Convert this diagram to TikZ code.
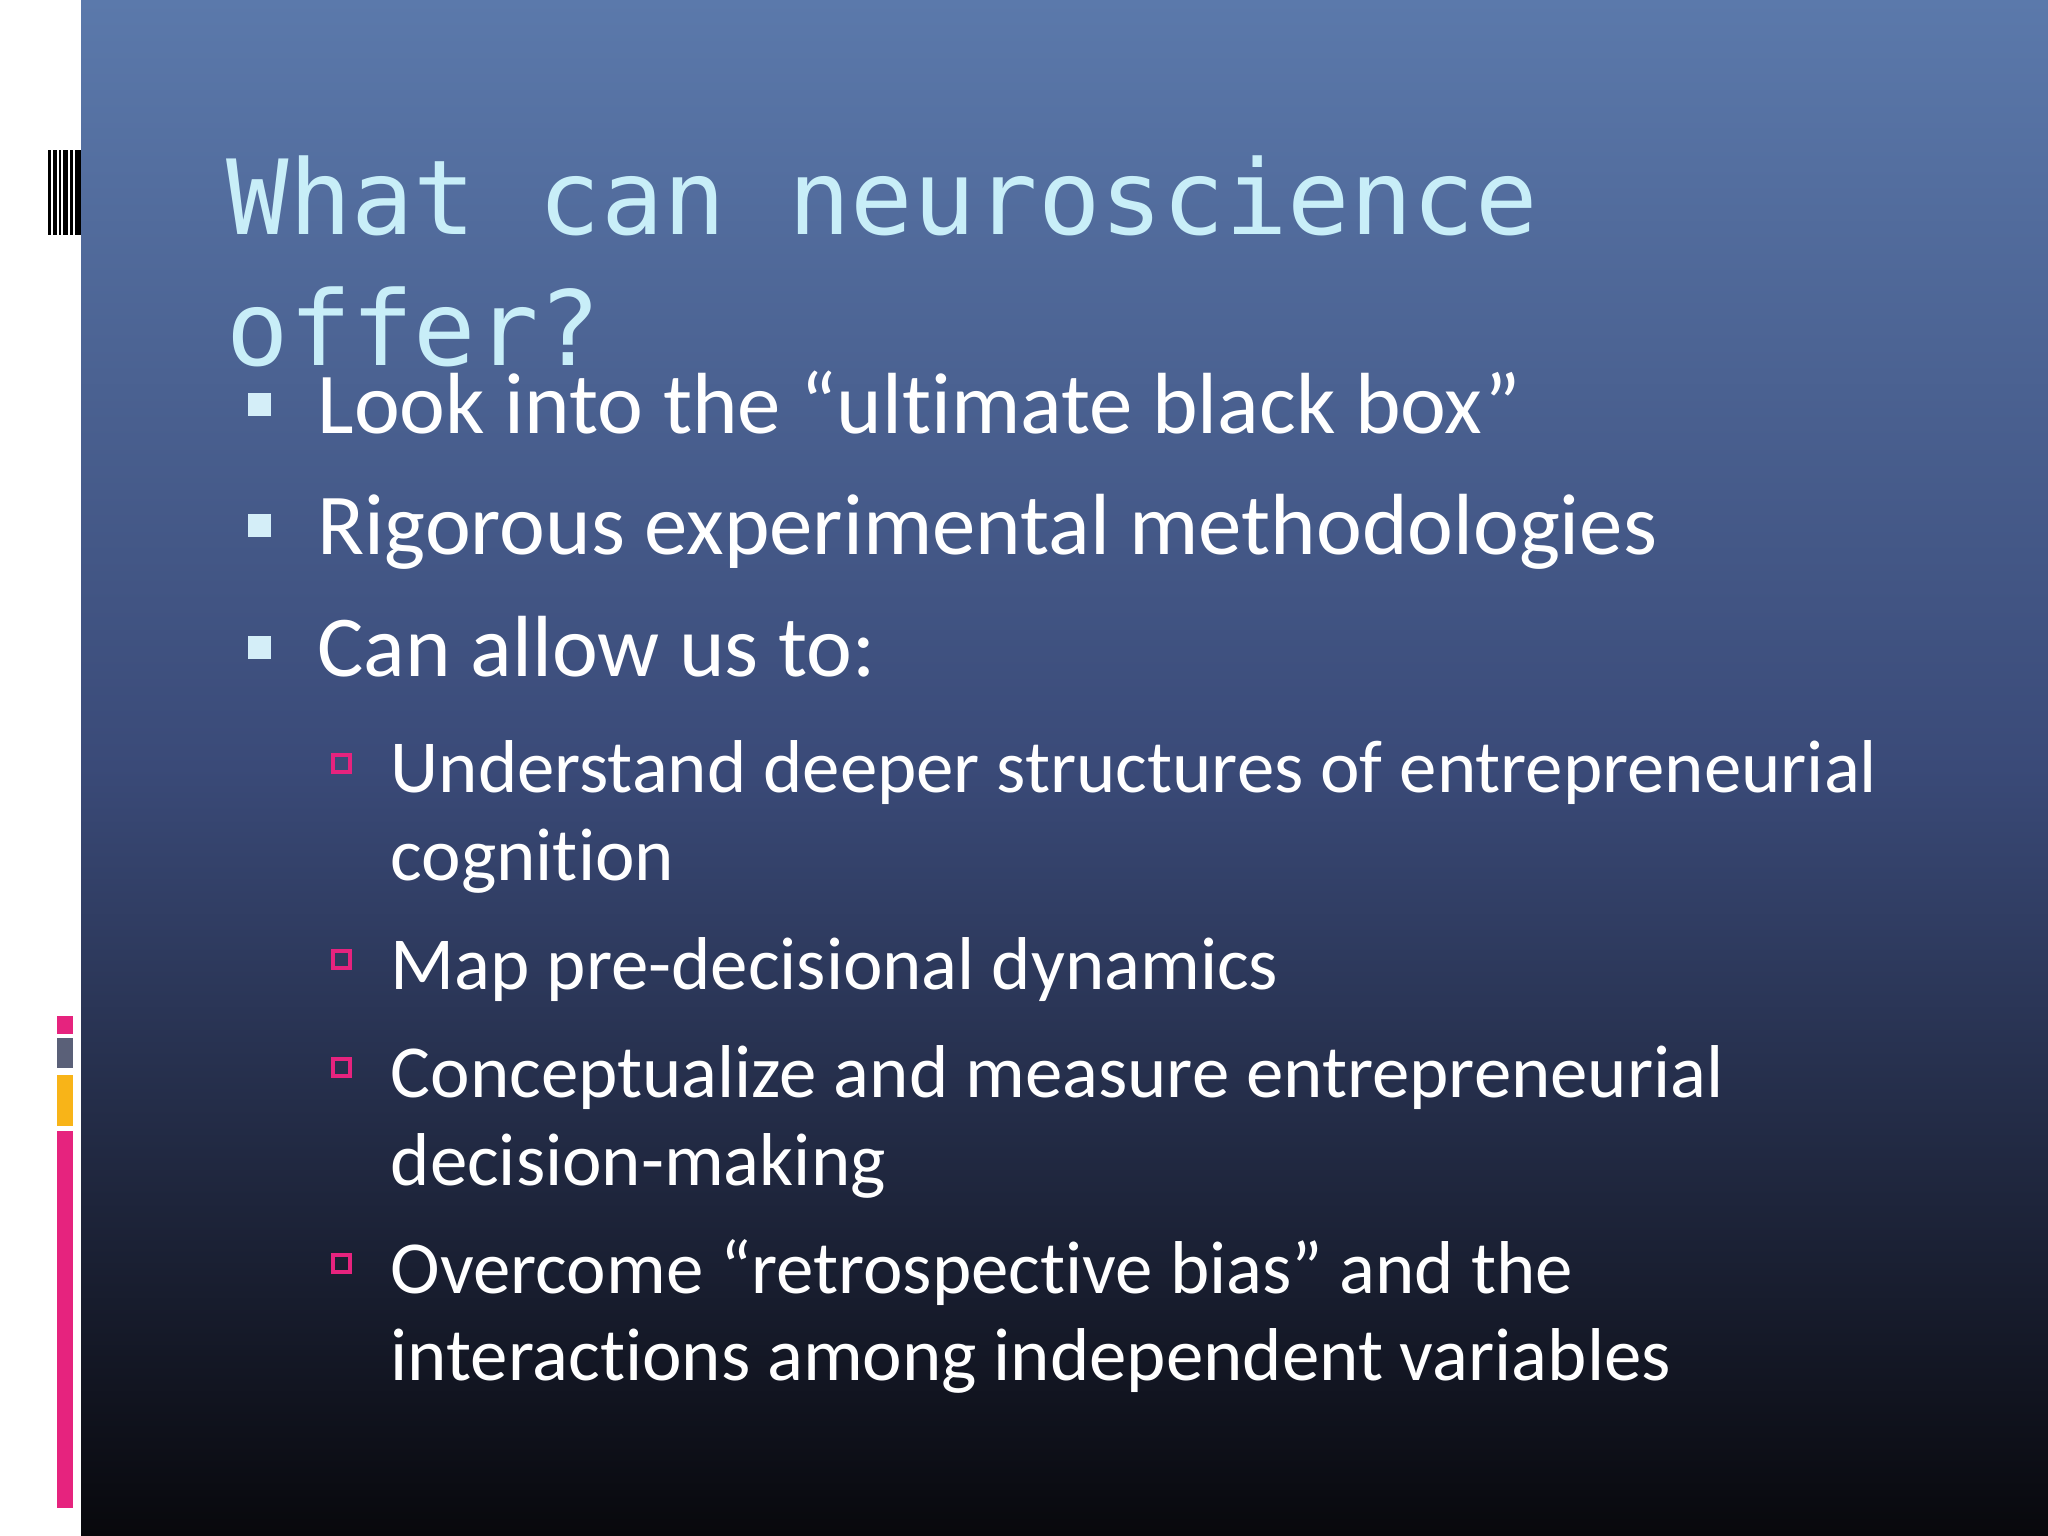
\documentclass[tikz,border=0pt]{standalone}
\usepackage{fontspec}
\setmainfont[RawFeature=-liga]{Carlito}
\newfontfamily\titlefont{DejaVu Sans Mono}
\definecolor{topblue}{HTML}{5B79AB}
\definecolor{midblue}{HTML}{3A4A78}
\definecolor{botblk}{HTML}{08080C}
\definecolor{ttl}{HTML}{C8EEF8}
\definecolor{bul}{HTML}{D4EEF8}
\definecolor{pinkb}{HTML}{E6237E}
\definecolor{greyb}{HTML}{5A6078}
\definecolor{orangeb}{HTML}{F8B418}
\tikzset{
  main/.style={anchor=base west,text=white,inner sep=0pt,font=\fontsize{24.7}{30}\selectfont},
  sub/.style={anchor=base west,text=white,inner sep=0pt,font=\fontsize{21.3}{26}\selectfont},
  ttlstyle/.style={anchor=base west,text=ttl,inner sep=0pt,font=\titlefont\fontsize{29.5}{35}\selectfont},
}
\begin{document}
\begin{tikzpicture}[x=1cm,y=1cm]
\useasboundingbox (0,0) rectangle (20.48,-15.36);
\fill[white] (0,0) rectangle (0.81,-15.36);
\shade[top color=topblue,bottom color=botblk,middle color=midblue] (0.81,0) rectangle (20.48,-15.36);
% barcode
\foreach \x/\w in {0.48/0.03,0.53/0.04,0.59/0.02,0.63/0.05,0.70/0.03,0.75/0.06}
  \fill[black] (\x,-1.50) rectangle ++(\w,-0.85);
% coloured bars
\fill[pinkb] (0.57,-10.16) rectangle (0.73,-10.34);
\fill[greyb] (0.57,-10.38) rectangle (0.73,-10.68);
\fill[orangeb] (0.57,-10.75) rectangle (0.73,-11.26);
\fill[pinkb] (0.57,-11.31) rectangle (0.73,-15.08);
% title
\node[ttlstyle] (t1) at (2.26,-2.35) {What can neuroscience};
\node[ttlstyle] (t2) at (2.26,-3.66) {offer?};
% main bullets
\foreach \y/\t [count=\i] in {4.34/{Look into the “ultimate black box”},5.55/{Rigorous experimental methodologies},6.77/{Can allow us to:}}{
  \fill[bul] (2.48,-\y+0.41) rectangle ++(0.23,-0.23);
  \node[main] (m\i) at (3.17,-\y) {\t};
}
% sub bullets
\foreach \y in {7.93,9.89,10.97,12.93}
  \draw[pinkb,line width=1.3pt] (3.33,-\y+0.38) rectangle ++(0.17,-0.17);
\node[sub] (s1) at (3.90,-7.93) {Understand deeper structures of entrepreneurial};
\node[sub] (s1b) at (3.90,-8.80) {cognition};
\node[sub] (s2) at (3.90,-9.89) {Map pre-decisional dynamics};
\node[sub] (s3) at (3.90,-10.97) {Conceptualize and measure entrepreneurial};
\node[sub] (s3b) at (3.90,-11.85) {decision-making};
\node[sub] (s4) at (3.90,-12.93) {Overcome “retrospective bias” and the};
\node[sub] (s4b) at (3.90,-13.80) {interactions among independent variables};
\end{tikzpicture}
\end{document}
